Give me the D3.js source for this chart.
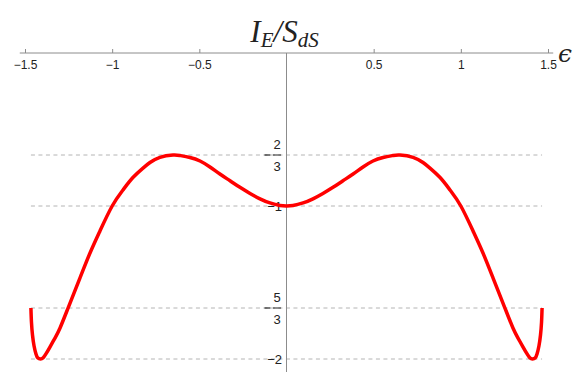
<!DOCTYPE html>
<html>
<head>
<meta charset="utf-8">
<script src="https://cdn.jsdelivr.net/npm/d3@7"></script>
<style>
  html, body { margin: 0; padding: 0; background: #fff; }
  #chart svg { display: block; }
</style>
</head>
<body>
<div id="chart"></div>
<script>
var width = 577,
    height = 372;

// Curve (epsilon, I_E / S_dS)
var epsilon = [-1.466, -1.463, -1.457, -1.448, -1.437, -1.426, -1.411, -1.397, -1.38,
               -1.357, -1.328, -1.299, -1.253, -1.185, -1.127, -1.07, -1.0, -0.938,
               -0.881, -0.823, -0.783, -0.726, -0.651, -0.611, -0.554, -0.496, -0.439,
               -0.382, -0.324, -0.267, -0.209, -0.152, -0.095, -0.037, 0,
               0.037, 0.095, 0.152, 0.209, 0.267, 0.324, 0.382, 0.439, 0.496, 0.554,
               0.611, 0.651, 0.726, 0.783, 0.823, 0.881, 0.938, 1.0, 1.07, 1.127,
               1.185, 1.253, 1.299, 1.328, 1.357, 1.38, 1.397, 1.411, 1.426, 1.437,
               1.448, 1.457, 1.463, 1.466];
var ratio = [-1.667, -1.758, -1.843, -1.915, -1.967, -1.994, -2.0, -1.994, -1.967,
             -1.922, -1.863, -1.797, -1.667, -1.471, -1.307, -1.163, -1.0, -0.895,
             -0.814, -0.752, -0.716, -0.682, -0.667, -0.67, -0.683, -0.706, -0.745,
             -0.791, -0.835, -0.878, -0.918, -0.953, -0.98, -0.997, -1.0,
             -0.997, -0.98, -0.953, -0.918, -0.878, -0.835, -0.791, -0.745, -0.706, -0.683,
             -0.67, -0.667, -0.682, -0.716, -0.752, -0.814, -0.895, -1.0, -1.163, -1.307,
             -1.471, -1.667, -1.797, -1.863, -1.922, -1.967, -1.994, -2.0, -1.994, -1.967,
             -1.915, -1.843, -1.758, -1.667];

var xTicks = [-1.5, -1, -0.5, 0.5, 1, 1.5];
var yTicks = [-2 / 3, -1, -5 / 3, -2];
var yTickNum = ["2", "1", "5", "2"];
var yTickDen = ["3", "", "3", ""];

var svg = d3.select('#chart')
    .append('svg')
    .attr('width', width)
    .attr('height', height);

// Scales
var x = d3.scaleLinear().domain([-1.5, 1.5]).range([25, 548]),
    y = d3.scaleLinear().domain([0, -2]).range([53, 359]);

var data = epsilon.map(function(e, i) {
    return {e: e, v: ratio[i]};
});

var xMin = d3.min(epsilon), xMax = d3.max(epsilon);

// Dashed grid lines at the y ticks
svg.append('g')
    .selectAll('line')
    .data(yTicks)
    .enter()
    .append('line')
    .attr('x1', x(xMin))
    .attr('x2', x(xMax))
    .attr('y1', function(d) { return y(d); })
    .attr('y2', function(d) { return y(d); })
    .attr('stroke', '#b4b4b4')
    .attr('stroke-width', 1)
    .attr('stroke-dasharray', '4,3.5');

// Vertical axis
svg.append('line')
    .attr('x1', x(0)).attr('x2', x(0))
    .attr('y1', y(0)).attr('y2', height)
    .attr('stroke', '#8c8c8c')
    .attr('stroke-width', 1);

// Horizontal axis line
svg.append('line')
    .attr('x1', x(-1.53)).attr('x2', x(1.53))
    .attr('y1', y(0)).attr('y2', y(0))
    .attr('stroke', '#8c8c8c')
    .attr('stroke-width', 1);

var xAxis = d3.axisBottom(x)
    .tickValues(xTicks)
    .tickSizeInner(-4)
    .tickSizeOuter(0)
    .tickPadding(7)
    .tickFormat(d3.format('~g'));

var gx = svg.append('g')
    .attr('transform', 'translate(0,' + y(0) + ')')
    .call(xAxis);
gx.select('.domain').remove();
gx.selectAll('.tick line').attr('stroke', '#8c8c8c');
gx.selectAll('.tick text')
    .attr('fill', '#222')
    .style('font', '12px "Liberation Sans", Arial, sans-serif');

// Y tick labels (fractions)
var yl = svg.append('g')
    .selectAll('g')
    .data(yTicks)
    .enter()
    .append('g')
    .attr('transform', function(d) { return 'translate(0,' + y(d) + ')'; })
    .style('font', '13px "Liberation Sans", Arial, sans-serif')
    .attr('fill', '#222');

yl.each(function(d, i) {
    var g = d3.select(this);
    if (yTickDen[i]) {
        g.append('text').attr('x', 277).attr('y', -11).attr('dy', '0.35em')
            .attr('text-anchor', 'middle').text(yTickNum[i]);
        g.append('text').attr('x', 277).attr('y', 11.5).attr('dy', '0.35em')
            .attr('text-anchor', 'middle').text(yTickDen[i]);
        g.append('line').attr('x1', 273).attr('x2', 281).attr('y1', 0).attr('y2', 0)
            .attr('stroke', '#222').attr('stroke-width', 1);
        g.append('line').attr('x1', 264.5).attr('x2', 270.5).attr('y1', 0).attr('y2', 0)
            .attr('stroke', '#222').attr('stroke-width', 1.2);
    } else {
        g.append('text').attr('x', 282).attr('y', 0).attr('dy', '0.35em')
            .attr('text-anchor', 'end').text('\u2212' + yTickNum[i]);
    }
});

// Curve
var line = d3.line()
    .curve(d3.curveNatural)
    .x(function(d) { return x(d.e); })
    .y(function(d) { return y(d.v); });

svg.append('path')
    .datum(data)
    .attr('d', line)
    .attr('fill', 'none')
    .attr('stroke', '#ff0000')
    .attr('stroke-width', 3.5)
    .attr('stroke-linejoin', 'round');

// Title
var title = svg.append('text')
    .attr('x', x(0) - 2)
    .attr('y', 42)
    .attr('text-anchor', 'middle')
    .attr('fill', '#222')
    .style('font', 'italic 31px "Liberation Serif", "Times New Roman", serif');
title.append('tspan').text('I');
title.append('tspan').attr('dy', 5).style('font-size', '21px').text('E');
title.append('tspan').attr('dy', -5).text('/S');
title.append('tspan').attr('dy', 5).style('font-size', '21px').text('dS');

// Axis label
svg.append('text')
    .attr('x', 558)
    .attr('y', 62)
    .attr('fill', '#222')
    .style('font', 'italic 25px "DejaVu Serif", serif')
    .text('\u03f5');
</script>
</body>
</html>
